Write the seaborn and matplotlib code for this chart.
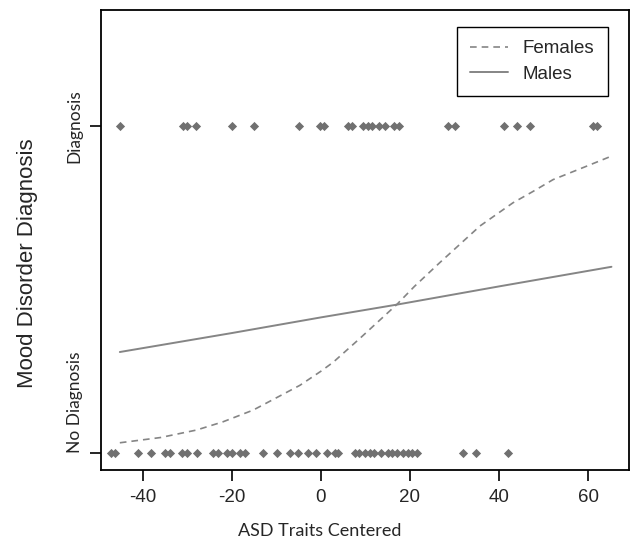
import pandas as pd
import matplotlib
matplotlib.use("Agg")
import matplotlib.pyplot as plt
import seaborn as sns

# --- observed points (ASD traits centered) ---
diag_x = [-45, -31, -30, -28, -20, -15, -5, -0.2, 0.7, 6, 7, 9.5, 10.5, 11.5,
          13, 14.5, 16.5, 17.5, 28.6, 30, 41, 44, 47, 61, 62]
nodiag_x = [-47, -46.2, -41, -38, -35, -33.9, -31.2, -30.1, -27.9, -24.1, -23,
            -21.1, -20, -18.2, -17, -12.9, -9.9, -7, -5.1, -2.8, -1, 1.3, 3.1,
            3.9, 7.6, 8.5, 10, 11, 12, 13.5, 15, 16, 17, 18.5, 19.5, 20.5, 21.5,
            31.9, 34.9, 42]

# --- predicted probability curves ---
fem_x = [-45.1, -36, -27.9, -22, -15.2, -4.7, 0, 2.8, 8.7, 17.0, 21, 26.7,
         35.7, 43.1, 47.5, 52.1, 59.6, 65.2]
fem_y = [0.031, 0.047, 0.070, 0.095, 0.131, 0.207, 0.25, 0.278, 0.350, 0.454,
         0.51, 0.583, 0.695, 0.766, 0.80, 0.837, 0.878, 0.909]
male_x = [-45.1, -20, 0, 17, 40, 65.2]
male_y = [0.309, 0.367, 0.415, 0.454, 0.51, 0.570]

pts = pd.DataFrame({
    "asd": diag_x + nodiag_x,
    "mood": [1] * len(diag_x) + [0] * len(nodiag_x),
})

sns.set_style("ticks")
plt.rcParams["font.family"] = ["Liberation Sans", "DejaVu Sans"]

fig = plt.figure(figsize=(6.32, 5.47), dpi=100)
ax = fig.add_axes([0.160, 0.141, 0.835, 0.841])

line_col = "#858585"
sns.lineplot(x=fem_x, y=fem_y, ax=ax, color=line_col, lw=1.2,
             label="Females", sort=True, estimator=None)
sns.lineplot(x=male_x, y=male_y, ax=ax, color=line_col, lw=1.4,
             label="Males", sort=True, estimator=None)
ax.lines[0].set_dashes((4, 3))

sns.scatterplot(data=pts, x="asd", y="mood", ax=ax, marker="D", s=22,
                color="#707070", linewidth=0, legend=False, zorder=3)

ax.set_xlim(-49.3, 69.1)
ax.set_ylim(-0.052, 1.357)

ax.set_xticks([-40, -20, 0, 20, 40, 60])
ax.set_xticklabels(["-40", "-20", "0", "20", "40", "60"], fontsize=13.5)
ax.set_yticks([0, 1])
ax.set_yticklabels(["No Diagnosis", "Diagnosis"], fontsize=12.5,
                   family=["Lato", "DejaVu Sans"], rotation=90)
ylabs = ax.get_yticklabels()
ylabs[0].set_va("bottom")
ylabs[1].set_va("center")
for lab in ylabs:
    lab.set_ha("center")

ax.tick_params(axis="both", direction="out", length=8, width=1.2, color="black")
ax.tick_params(axis="x", pad=6)
ax.tick_params(axis="y", pad=11)

for sp in ax.spines.values():
    sp.set_visible(True)
    sp.set_linewidth(1.3)
    sp.set_color("black")

ax.set_xlabel("ASD Traits Centered", fontsize=13, family=["Lato", "DejaVu Sans"])
ax.xaxis.set_label_coords(0.415, -0.115)
ax.set_ylabel("Mood Disorder Diagnosis", fontsize=16)
ax.yaxis.set_label_coords(-0.12, 0.45)

leg = ax.legend(loc="upper right", bbox_to_anchor=(0.960, 0.963),
                borderaxespad=0, fontsize=13.5, frameon=True, fancybox=False,
                edgecolor="black", framealpha=1, handlelength=2.0,
                handletextpad=0.8, borderpad=0.7, labelspacing=0.45)
leg.get_frame().set_linewidth(1.0)

fig.savefig("out.png", dpi=100)
